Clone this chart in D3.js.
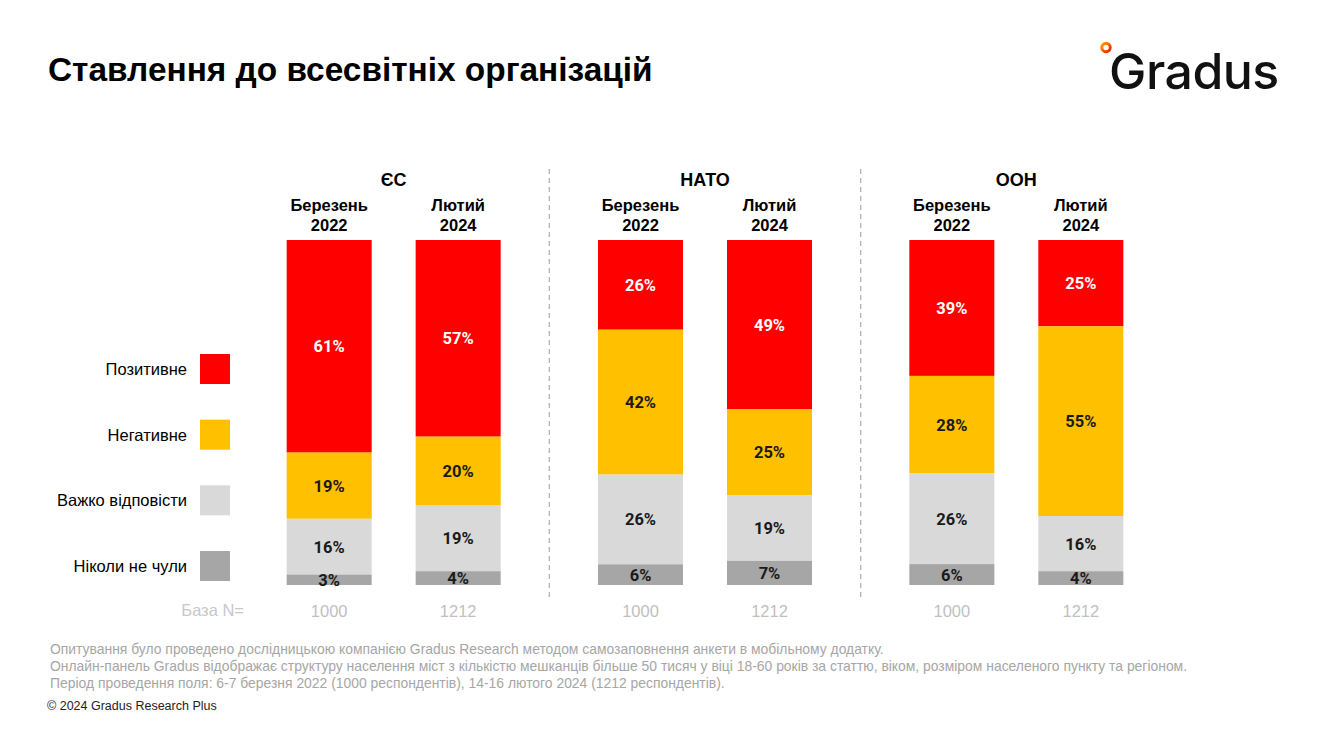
<!DOCTYPE html>
<html><head><meta charset="utf-8">
<script src="https://cdn.jsdelivr.net/npm/d3@7"></script>
<style>
html,body{margin:0;padding:0;background:#fff;}
svg{display:block;font-family:"Liberation Sans",Arial,sans-serif;}
</style></head>
<body>
<svg id="chart" width="1323" height="737"></svg>
<script>
const groups = ["ЄС", "НАТО", "ООН"];
const periods = ["Березень 2022", "Лютий 2024"];
const periodLines = [["Березень", "2022"], ["Лютий", "2024"]];
const baseN = [1000, 1212];
const seriesNames = ["Позитивне", "Негативне", "Важко відповісти", "Ніколи не чули"];
const seriesColors = ["#FF0000", "#FFC000", "#D9D9D9", "#A6A6A6"];
const labelColors = ["#ffffff", "#1a1a1a", "#1a1a1a", "#1a1a1a"];
// values per group, per period: [Позитивне, Негативне, Важко відповісти, Ніколи не чули]
const euValues   = [[61, 19, 16, 3], [57, 20, 19, 4]];
const natoValues = [[26, 42, 26, 6], [49, 25, 19, 7]];
const unValues   = [[39, 28, 26, 6], [25, 55, 16, 4]];
const allValues = [euValues, natoValues, unValues];
const footnotes = [
  "Опитування було проведено дослідницькою компанією Gradus Research методом самозаповнення анкети в мобільному додатку.",
  "Онлайн-панель Gradus відображає структуру населення міст з кількістю мешканців більше 50 тисяч у віці 18-60 років за статтю, віком, розміром населеного пункту та регіоном.",
  "Період проведення поля: 6-7 березня 2022 (1000 респондентів), 14-16 лютого 2024 (1212 респондентів)."
];

const svg = d3.select("#chart");

// Title
svg.append("text").attr("x", 48).attr("y", 81)
  .attr("font-size", 33.4).attr("font-weight", "bold").attr("fill", "#000")
  .text("Ставлення до всесвітніх організацій");

// Logo
const defs = svg.append("defs");
const lg = defs.append("linearGradient").attr("id", "lg").attr("x1", 0).attr("y1", 0).attr("x2", 1).attr("y2", 1);
lg.append("stop").attr("offset", "0%").attr("stop-color", "#FFA000");
lg.append("stop").attr("offset", "100%").attr("stop-color", "#E8200A");
const logo = svg.append("g");
logo.append("circle").attr("cx", 1106).attr("cy", 47.5).attr("r", 4.2)
  .attr("fill", "none").attr("stroke", "url(#lg)").attr("stroke-width", 3);
logo.append("text").attr("x", 1109).attr("y", 89)
  .attr("font-family", "Inter, 'Noto Sans', sans-serif")
  .attr("font-size", 50).attr("font-weight", 500).attr("fill", "#111")
  .attr("letter-spacing", -0.5)
  .text("Gradus");

// Scales
const x0 = d3.scaleBand().domain(groups).range([238, 1172]).paddingInner(0).paddingOuter(0);
const x1 = d3.scaleBand().domain(periods).range([x0.bandwidth()/2 - 107, x0.bandwidth()/2 + 107]).paddingInner(0.341).paddingOuter(0);
const y = d3.scaleLinear().domain([0, 1]).range([240, 585]);

const stack = d3.stack().keys(d3.range(4)).offset(d3.stackOffsetExpand);

groups.forEach((g, gi) => {
  const gx = x0(g);
  const gg = svg.append("g").attr("transform", `translate(${gx},0)`);
  const cx = x0.bandwidth()/2;
  gg.append("text").attr("x", cx).attr("y", 186).attr("text-anchor", "middle")
    .attr("font-size", 18).attr("font-weight", "bold").attr("fill", "#000").text(g);

  const rows = allValues[gi].map(v => ({0: v[0], 1: v[1], 2: v[2], 3: v[3]}));
  const stacked = stack(rows);

  periods.forEach((p, pi) => {
    const bx = x1(p);
    const bw = x1.bandwidth();
    const lines = periodLines[pi];
    lines.forEach((ln, li) => {
      gg.append("text").attr("x", bx + bw/2).attr("y", 211 + li*20).attr("text-anchor", "middle")
        .attr("font-size", 16.5).attr("font-weight", "bold").attr("fill", "#000").text(ln);
    });
    stacked.forEach((s, si) => {
      const d = s[pi];
      const yTop = y(d[0]), yBot = y(d[1]);
      gg.append("rect").attr("x", bx).attr("width", bw)
        .attr("y", yTop).attr("height", yBot - yTop).attr("fill", seriesColors[si]);
      gg.append("text").attr("x", bx + bw/2).attr("y", (yTop + yBot)/2 + 6)
        .attr("text-anchor", "middle").attr("font-size", 16.5).attr("font-weight", "bold")
        .attr("font-family", "Roboto, 'Liberation Sans', Arial, sans-serif")
        .attr("fill", labelColors[si]).text(allValues[gi][pi][si] + "%");
    });
    gg.append("text").attr("x", bx + bw/2).attr("y", 617).attr("text-anchor", "middle")
      .attr("font-size", 16.5).attr("fill", "#bfbfbf").text(baseN[pi]);
  });
});

// dividers between groups
[0, 1].forEach(i => {
  const right = x0(groups[i]) + x1(periods[1]) + x1.bandwidth();
  const left = x0(groups[i + 1]) + x1(periods[0]);
  const xx = (right + left) / 2;
  svg.append("line").attr("x1", xx).attr("x2", xx).attr("y1", 169).attr("y2", 599)
    .attr("stroke", "#b3b3b3").attr("stroke-width", 1.3).attr("stroke-dasharray", "5,4");
});

// База N=
svg.append("text").attr("x", 244).attr("y", 616).attr("text-anchor", "end")
  .attr("font-size", 16.5).attr("fill", "#c8c8c8").text("База N=");

// Legend
const legendY = d3.scalePoint().domain(seriesNames).range([369, 566]);
seriesNames.forEach((n, i) => {
  svg.append("rect").attr("x", 200).attr("y", legendY(n) - 15).attr("width", 30).attr("height", 30)
    .attr("fill", seriesColors[i]);
  svg.append("text").attr("x", 187).attr("y", legendY(n) + 6).attr("text-anchor", "end")
    .attr("font-size", 16.5).attr("fill", "#000").text(n);
});

// Footnotes
footnotes.forEach((t, i) => {
  svg.append("text").attr("x", 50).attr("y", 654 + i*17)
    .attr("font-size", 13.9).attr("fill", "#a6a6a6").text(t);
});
svg.append("text").attr("x", 47).attr("y", 710)
  .attr("font-size", 12.5).attr("fill", "#222").text("© 2024 Gradus Research Plus");
</script>
</body></html>
